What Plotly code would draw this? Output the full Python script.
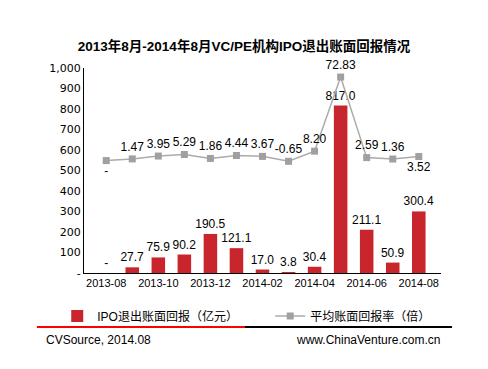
import plotly.graph_objects as go

months = ["2013-08", "2013-09", "2013-10", "2013-11", "2013-12", "2014-01", "2014-02",
          "2014-03", "2014-04", "2014-05", "2014-06", "2014-07", "2014-08"]
ipo_return = [0, 27.7, 75.9, 90.2, 190.5, 121.1, 17.0, 3.8, 30.4, 817.0, 211.1, 50.9, 300.4]
avg_rate = [0, 1.47, 3.95, 5.29, 1.86, 4.44, 3.67, -0.65, 8.20, 72.83, 2.59, 1.36, 3.52]
rate_text = ["-", "1.47", "3.95", "5.29", "1.86", "4.44", "3.67", "-0.65", "8.20", "72.83", "2.59", "1.36", "3.52"]
bar_text = ["-" if v == 0 else f"{v:.1f}" for v in ipo_return]
y_ticks = [0, 100, 200, 300, 400, 500, 600, 700, 800, 900, 1000]
y_tick_text = ["-", "100", "200", "300", "400", "500", "600", "700", "800", "900", "1,000"]
x_ticks = ["2013-08", "2013-10", "2013-12", "2014-02", "2014-04", "2014-06", "2014-08"]

font_main = "Liberation Sans, Arial, Noto Sans CJK SC, sans-serif"

fig = go.Figure()
fig.add_trace(go.Bar(
    x=months, y=ipo_return, name="IPO退出账面回报（亿元）",
    marker=dict(color="#C9252D", line=dict(width=0)),
    width=0.52,
    text=bar_text, textposition="outside", cliponaxis=False, constraintext="none",
    textfont=dict(size=12, color="black", family=font_main),
))
pos = ["top center"] * len(avg_rate)
pos[0] = "bottom center"
pos[-1] = "bottom center"
fig.add_trace(go.Scatter(
    x=months, y=avg_rate, name="平均账面回报率（倍）", yaxis="y2",
    mode="lines+markers+text",
    line=dict(color="#ABABAB", width=1.5),
    marker=dict(symbol="square", size=7, color="#A0A0A0"),
    text=rate_text, textposition=pos, cliponaxis=False,
    textfont=dict(size=12, color="black", family=font_main),
))

shapes = [
    dict(type="line", xref="paper", yref="paper", x0=-0.132, x1=0.451, y0=-0.263, y1=-0.263,
         line=dict(color="#FF0000", width=2)),
    dict(type="line", xref="paper", yref="paper", x0=0.451, x1=1.031, y0=-0.263, y1=-0.263,
         line=dict(color="#000000", width=2)),
]

W, H = 480, 361
fig.update_layout(
    width=W, height=H,
    margin=dict(l=76, r=47, t=60, b=96, autoexpand=False),
    paper_bgcolor="white", plot_bgcolor="white",
    font=dict(family=font_main, size=12, color="black"),
    title=dict(text="<b>2013年8月-2014年8月VC/PE机构IPO退出账面回报情况</b>",
               x=236 / W, xref="container", xanchor="center", y=1 - 38 / H, yanchor="middle",
               font=dict(size=13.5, family="Liberation Sans, Noto Sans CJK SC, sans-serif")),
    xaxis=dict(type="category", tickmode="array", tickvals=x_ticks, ticktext=x_ticks,
               showline=True, linecolor="black", linewidth=1, ticks="",
               tickfont=dict(size=11), showgrid=False),
    yaxis=dict(range=[0, 1000], tickmode="array", tickvals=y_ticks, ticktext=y_tick_text,
               showline=True, linecolor="black", linewidth=1, showgrid=False, zeroline=False,
               ticks="", tickfont=dict(size=11, family="DejaVu Sans, sans-serif")),
    yaxis2=dict(range=[-98, 80.7], overlaying="y", visible=False),
    showlegend=True,
    legend=dict(orientation="h", x=-0.075, xanchor="left", y=-0.21, yanchor="middle",
                entrywidth=168, font=dict(size=12), traceorder="normal",
                bgcolor="rgba(0,0,0,0)"),
    shapes=shapes,
    annotations=[
        dict(text="CVSource, 2014.08", xref="paper", yref="paper", x=(44 - 84) / 357, y=-0.327,
             xanchor="left", yanchor="middle", showarrow=False, font=dict(size=12)),
        dict(text="www.ChinaVenture.com.cn", xref="paper", yref="paper", x=(442 - 84) / 357, y=-0.327,
             xanchor="right", yanchor="middle", showarrow=False, font=dict(size=12)),
    ],
    bargap=0.48,
)

fig.write_html("out.html")
